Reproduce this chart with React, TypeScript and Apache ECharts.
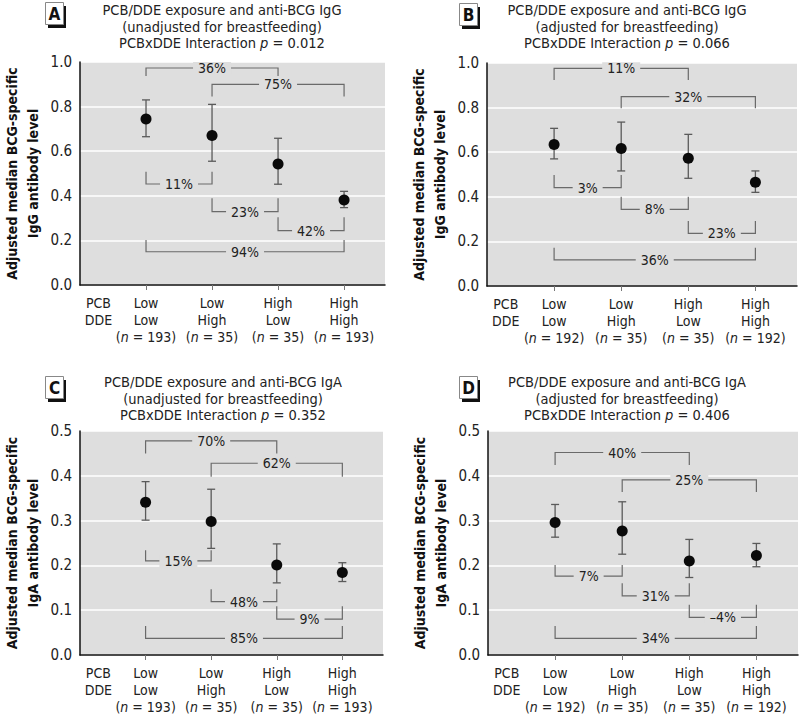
import React, { useEffect, useRef } from "react";
import * as echarts from "echarts";

const FONT = "'Liberation Sans Narrow', 'Arial Narrow', 'DejaVu Sans Condensed', 'Roboto', sans-serif";

const pcbLevels = ["Low", "Low", "High", "High"];
const ddeLevels = ["Low", "High", "Low", "High"];
const groupPos = [1, 2, 3, 4];
const nUnadj = [193, 35, 35, 193];
const nAdj = [192, 35, 35, 192];

const igGUnadjMedian = [0.744, 0.67, 0.543, 0.381];
const igGUnadjLower = [0.665, 0.555, 0.452, 0.347];
const igGUnadjUpper = [0.83, 0.81, 0.658, 0.42];

const igGAdjMedian = [0.635, 0.617, 0.573, 0.465];
const igGAdjLower = [0.57, 0.516, 0.483, 0.42];
const igGAdjUpper = [0.707, 0.735, 0.68, 0.516];

const igAUnadjMedian = [0.341, 0.298, 0.201, 0.184];
const igAUnadjLower = [0.301, 0.238, 0.161, 0.164];
const igAUnadjUpper = [0.387, 0.37, 0.248, 0.206];

const igAAdjMedian = [0.296, 0.277, 0.21, 0.222];
const igAAdjLower = [0.263, 0.225, 0.173, 0.197];
const igAAdjUpper = [0.336, 0.342, 0.258, 0.249];

// [fromGroup, toGroup, lineLevel, endLevel, label]
const bracketsA: [number, number, number, number, string][] = [
  [1, 3, 0.973, 0.937, "36%"],
  [2, 4, 0.9, 0.845, "75%"],
  [1, 2, 0.453, 0.508, "11%"],
  [2, 3, 0.329, 0.389, "23%"],
  [3, 4, 0.244, 0.304, "42%"],
  [1, 4, 0.149, 0.202, "94%"],
];
const bracketsB: [number, number, number, number, string][] = [
  [1, 3, 0.976, 0.924, "11%"],
  [2, 4, 0.849, 0.797, "32%"],
  [1, 2, 0.441, 0.498, "3%"],
  [2, 3, 0.344, 0.4, "8%"],
  [3, 4, 0.236, 0.291, "23%"],
  [1, 4, 0.117, 0.172, "36%"],
];
const bracketsC: [number, number, number, number, string][] = [
  [1, 3, 0.478, 0.45, "70%"],
  [2, 4, 0.428, 0.398, "62%"],
  [1, 2, 0.21, 0.234, "15%"],
  [2, 3, 0.119, 0.147, "48%"],
  [3, 4, 0.08, 0.109, "9%"],
  [1, 4, 0.037, 0.065, "85%"],
];
const bracketsD: [number, number, number, number, string][] = [
  [1, 3, 0.452, 0.424, "40%"],
  [2, 4, 0.391, 0.364, "25%"],
  [1, 2, 0.176, 0.201, "7%"],
  [2, 3, 0.132, 0.16, "31%"],
  [3, 4, 0.084, 0.112, "\u20134%"],
  [1, 4, 0.037, 0.065, "34%"],
];

const titlesMain = [
  "PCB/DDE exposure and anti-BCG IgG",
  "PCB/DDE exposure and anti-BCG IgG",
  "PCB/DDE exposure and anti-BCG IgA",
  "PCB/DDE exposure and anti-BCG IgA",
];
const titlesSub = [
  "(unadjusted for breastfeeding)",
  "(adjusted for breastfeeding)",
  "(unadjusted for breastfeeding)",
  "(adjusted for breastfeeding)",
];
const pValues = ["0.012", "0.066", "0.352", "0.406"];
const panelLetters = ["A", "B", "C", "D"];
const yNames = [
  "Adjusted median BCG-specific\nIgG antibody level",
  "Adjusted median BCG-specific\nIgG antibody level",
  "Adjusted median BCG-specific\nIgA antibody level",
  "Adjusted median BCG-specific\nIgA antibody level",
];
const yMax = [1.0, 1.0, 0.5, 0.5];
const yInterval = [0.2, 0.2, 0.1, 0.1];

const BG = "#dedede";

export default function App() {
  const ref = useRef<HTMLDivElement>(null);
  useEffect(() => {
    if (!ref.current) return;
    const chart = echarts.init(ref.current, null, { renderer: "svg" });

    const panels = [
      { med: igGUnadjMedian, lo: igGUnadjLower, hi: igGUnadjUpper, n: nUnadj, br: bracketsA },
      { med: igGAdjMedian, lo: igGAdjLower, hi: igGAdjUpper, n: nAdj, br: bracketsB },
      { med: igAUnadjMedian, lo: igAUnadjLower, hi: igAUnadjUpper, n: nUnadj, br: bracketsC },
      { med: igAAdjMedian, lo: igAAdjLower, hi: igAAdjUpper, n: nAdj, br: bracketsD },
    ];

    const gridLayout = [
      { left: 73, top: 62, width: 312, height: 223 },
      { left: 487, top: 63, width: 310, height: 223 },
      { left: 72, top: 431, width: 311, height: 224 },
      { left: 488, top: 431, width: 310, height: 224 },
    ];
    const titleLayout = [
      { x: 222, y: 2 },
      { x: 627, y: 2 },
      { x: 223, y: 374 },
      { x: 627, y: 374 },
    ];
    const boxLayout = [
      { x: 45, y: 2 },
      { x: 459, y: 3 },
      { x: 45, y: 376 },
      { x: 459, y: 376 },
    ];

    const grid = gridLayout.map((g) => ({
      ...g,
      show: true,
      backgroundColor: BG,
      borderWidth: 0,
    }));

    const xAxis = panels.map((p, i) => ({
      type: "value",
      gridIndex: i,
      min: 0,
      max: 4.62,
      axisLine: { show: true, onZero: false, lineStyle: { color: "#111", width: 1.5 } },
      axisTick: {
        show: true,
        customValues: groupPos,
        length: 5,
        lineStyle: { color: "#777", width: 1 },
      },
      splitLine: { show: false },
      axisLabel: {
        customValues: [0.28, ...groupPos],
        margin: 9,
        color: "#222",
        fontFamily: FONT,
        fontSize: 14,
        lineHeight: 17,
        formatter: (v: number) => {
          if (v < 0.5) return "PCB\nDDE";
          const k = Math.round(v) - 1;
          return `${pcbLevels[k]}\n${ddeLevels[k]}\n({it|n} = ${p.n[k]})`;
        },
        rich: {
          it: { fontStyle: "italic", fontFamily: FONT, fontSize: 14, lineHeight: 17, color: "#222" },
        },
      },
    }));

    const yAxis = panels.map((p, i) => ({
      type: "value",
      gridIndex: i,
      min: 0,
      max: yMax[i],
      interval: yInterval[i],
      name: yNames[i],
      nameLocation: "middle",
      nameGap: 37,
      nameTextStyle: {
        fontFamily: FONT,
        fontWeight: "bold",
        fontSize: 14,
        lineHeight: 21,
        color: "#111",
      },
      axisLine: { show: true, lineStyle: { color: "#111", width: 1.5 } },
      axisTick: { show: false },
      splitLine: { show: true, lineStyle: { color: "#ffffff", width: 1.5 } },
      axisLabel: {
        margin: 8,
        color: "#222",
        fontFamily: FONT,
        fontSize: 15,
        formatter: (v: number) => v.toFixed(1),
      },
    }));

    const title = panels.map((p, i) => ({
      text: `${titlesMain[i]}\n${titlesSub[i]}\nPCBxDDE Interaction {it|p} = ${pValues[i]}`,
      left: titleLayout[i].x,
      top: titleLayout[i].y,
      textAlign: "center",
      padding: 0,
      textStyle: {
        fontFamily: FONT,
        fontWeight: "normal",
        fontSize: 14.5,
        lineHeight: 16.5,
        color: "#222",
        rich: {
          it: { fontStyle: "italic", fontFamily: FONT, fontSize: 14.5, lineHeight: 16.5, color: "#222" },
        },
      },
    }));

    const series: any[] = [];
    panels.forEach((p, i) => {
      series.push({
        type: "custom",
        xAxisIndex: i,
        yAxisIndex: i,
        data: p.br.map((b) => [b[0], b[1], b[2], b[3]]),
        encode: { x: [0, 1], y: [2, 3] },
        z: 2,
        renderItem: (params: any, api: any) => {
          const a = api.coord([api.value(0), api.value(2)]);
          const b = api.coord([api.value(1), api.value(2)]);
          const e = api.coord([api.value(0), api.value(3)]);
          const label = p.br[params.dataIndex][4];
          return {
            type: "group",
            children: [
              {
                type: "polyline",
                shape: { points: [[a[0], e[1]], [a[0], a[1]], [b[0], b[1]], [b[0], e[1]]] },
                style: { stroke: "#6a6a6a", fill: null, lineWidth: 1.2 },
              },
              {
                type: "text",
                x: (a[0] + b[0]) / 2,
                y: a[1],
                style: {
                  text: label,
                  fill: "#222",
                  fontFamily: FONT,
                  fontSize: 14,
                  lineHeight: 12,
                  align: "center",
                  verticalAlign: "middle",
                  backgroundColor: BG,
                  padding: [0, 5],
                },
              },
            ],
          };
        },
      });
      series.push({
        type: "custom",
        xAxisIndex: i,
        yAxisIndex: i,
        data: groupPos.map((g, k) => [g, p.lo[k], p.hi[k]]),
        encode: { x: 0, y: [1, 2] },
        z: 3,
        renderItem: (params: any, api: any) => {
          const lo = api.coord([api.value(0), api.value(1)]);
          const hi = api.coord([api.value(0), api.value(2)]);
          const w = 4;
          const st = { stroke: "#5a5a5a", lineWidth: 1.3 };
          return {
            type: "group",
            children: [
              { type: "line", shape: { x1: lo[0], y1: lo[1], x2: hi[0], y2: hi[1] }, style: st },
              { type: "line", shape: { x1: lo[0] - w, y1: lo[1], x2: lo[0] + w, y2: lo[1] }, style: st },
              { type: "line", shape: { x1: hi[0] - w, y1: hi[1], x2: hi[0] + w, y2: hi[1] }, style: st },
            ],
          };
        },
      });
      series.push({
        type: "scatter",
        xAxisIndex: i,
        yAxisIndex: i,
        data: groupPos.map((g, k) => [g, p.med[k]]),
        symbol: "circle",
        symbolSize: 11,
        itemStyle: { color: "#0a0a0a", opacity: 1 },
        z: 4,
      });
    });

    const graphic: any[] = [];
    boxLayout.forEach((b, i) => {
      graphic.push({
        type: "rect",
        left: b.x + 3,
        top: b.y + 4,
        shape: { width: 18, height: 22 },
        style: { fill: "#111" },
        z: 10,
      });
      graphic.push({
        type: "rect",
        left: b.x,
        top: b.y,
        shape: { width: 18, height: 22 },
        style: { fill: "#fff", stroke: "#888", lineWidth: 1 },
        z: 11,
      });
      graphic.push({
        type: "text",
        x: b.x + 9.5,
        y: b.y + 11.5,
        style: {
          text: panelLetters[i],
          fill: "#111",
          fontFamily: FONT,
          fontWeight: "bold",
          fontSize: 17,
          align: "center",
          verticalAlign: "middle",
        },
        z: 12,
      });
    });

    chart.setOption({
      animation: false,
      backgroundColor: "#ffffff",
      title,
      grid,
      xAxis,
      yAxis,
      series,
      graphic,
    });
    return () => chart.dispose();
  }, []);

  return (
    <div
      ref={ref}
      style={{ position: "absolute", left: 0, top: 0, width: 800, height: 715 }}
    />
  );
}
